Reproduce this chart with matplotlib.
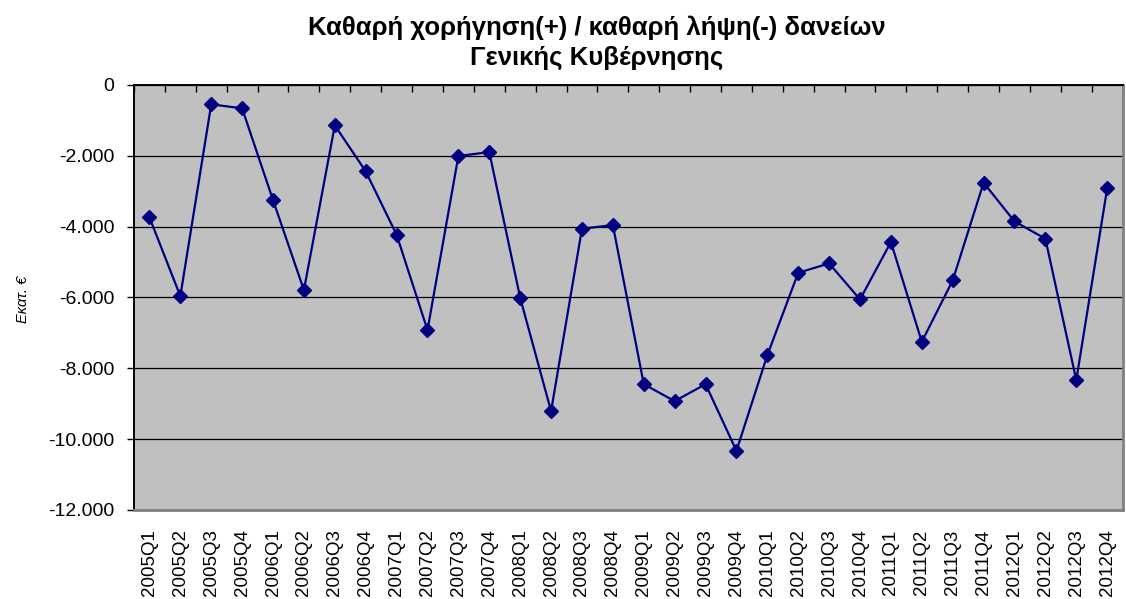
import matplotlib
matplotlib.use('Agg')
import matplotlib.pyplot as plt
from matplotlib.ticker import FuncFormatter, FixedLocator

plt.rcParams['font.family'] = ['Liberation Sans', 'DejaVu Sans']

# quarters and net lending(+)/borrowing(-) of general government, million euro
quarters = ['2005Q1', '2005Q2', '2005Q3', '2005Q4',
            '2006Q1', '2006Q2', '2006Q3', '2006Q4',
            '2007Q1', '2007Q2', '2007Q3', '2007Q4',
            '2008Q1', '2008Q2', '2008Q3', '2008Q4',
            '2009Q1', '2009Q2', '2009Q3', '2009Q4',
            '2010Q1', '2010Q2', '2010Q3', '2010Q4',
            '2011Q1', '2011Q2', '2011Q3', '2011Q4',
            '2012Q1', '2012Q2', '2012Q3', '2012Q4']
net_lending = [-3737, -5961, -546, -659,
               -3249, -5791, -1139, -2439,
               -4228, -6921, -2006, -1893,
               -6008, -9210, -4059, -3955,
               -8447, -8927, -8447, -10330,
               -7628, -5302, -5038, -6055,
               -4435, -7251, -5518, -2759,
               -3851, -4341, -8334, -2919]
y_ticks = [0, -2000, -4000, -6000, -8000, -10000, -12000]

title = 'Καθαρή χορήγηση(+) / καθαρή λήψη(-) δανείων\nΓενικής Κυβέρνησης'
y_label = 'Εκατ. €'


def greek_thousands(v, pos):
    return '{:,.0f}'.format(v).replace(',', '.')


fig = plt.figure(figsize=(11.26, 5.99), dpi=100)
ax = fig.add_axes([0.119, 0.1486, 0.878, 0.7095])
ax.set_facecolor('#C0C0C0')

x = list(range(len(quarters)))
ax.plot(x, net_lending, color='#000080', linewidth=1.6,
        marker='D', markersize=7.5, markerfacecolor='#000080',
        markeredgecolor='#000080', zorder=3)

ax.set_xlim(-0.5, len(quarters) - 0.5)
ax.set_ylim(-12000, 0)

ax.set_yticks(y_ticks)
ax.yaxis.set_major_formatter(FuncFormatter(greek_thousands))
ax.grid(axis='y', color='black', linewidth=0.9)
ax.set_axisbelow(True)

# category labels at the bottom, tick marks along the zero line at the top
ax.set_xticks(x)
ax.set_xticklabels(quarters, rotation=90, fontsize=13.5)
ax.tick_params(axis='x', length=0, pad=14)
top = ax.secondary_xaxis('top')
top.xaxis.set_major_locator(FixedLocator([i - 0.5 for i in range(len(quarters) + 1)]))
top.tick_params(axis='x', direction='in', length=5, width=1, labeltop=False, colors='black')
top.spines['top'].set_visible(False)

ax.tick_params(axis='y', direction='out', length=5, width=1, labelsize=14, pad=9)

ax.spines['top'].set_color('black')
ax.spines['top'].set_linewidth(1.4)
ax.spines['left'].set_color('black')
ax.spines['left'].set_linewidth(1.4)
ax.spines['right'].set_color('#808080')
ax.spines['right'].set_linewidth(2)
ax.spines['bottom'].set_color('#808080')
ax.spines['bottom'].set_linewidth(2)

fig.text(0.53, 0.928, title, ha='center', va='center', fontsize=18.5,
         fontweight='bold', linespacing=1.3)
fig.text(0.02, 0.5, y_label, rotation=90, ha='center', va='center',
         fontsize=10.5, style='italic')

fig.savefig('out.png', dpi=100)
